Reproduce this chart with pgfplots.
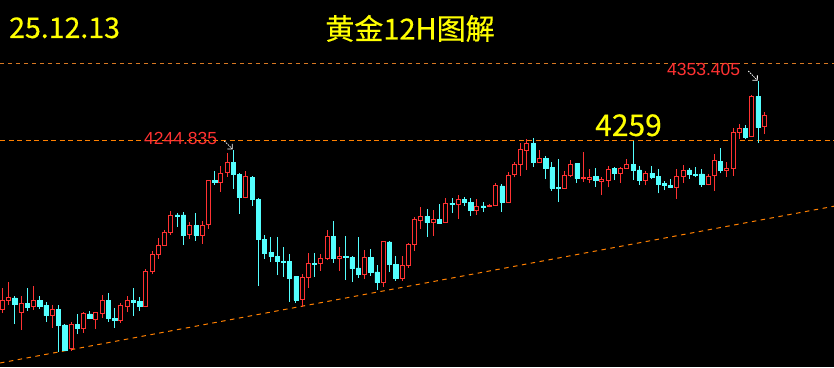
\documentclass[border=0pt]{standalone}
\usepackage{pgfplots}
\pgfplotsset{compat=1.18}
\usepackage{pgfplotstable}
\usepackage{fontspec}
\setmainfont{Noto Sans CJK SC}
\newfontfamily\titlefont{Noto Sans CJK SC}[FakeBold=0.35]
\newfontfamily\labfont{Liberation Sans}
\usetikzlibrary{arrows.meta}
\definecolor{cred}{RGB}{255,50,50}
\definecolor{ccyan}{RGB}{84,255,255}
\definecolor{corange}{RGB}{255,128,0}
\definecolor{ctop}{RGB}{215,120,35}
\definecolor{cyel}{RGB}{255,255,0}

\pgfplotstableread{
i o h l c
1 3994.6 4028.2 3988.8 4008.8
2 4007.7 4037.1 4000.9 4013.1
4 3988.8 4015.1 3962.1 4003.6
6 3998.3 4030.8 3993.1 4008.3
9 3984.1 4000.5 3965.2 3994.6
12 3932.2 3974.2 3928.6 3971.0
14 3963.6 3989.9 3957.4 3986.8
16 3977.8 3989.9 3963.6 3988.4
17 3987.2 4016.7 3981.0 4008.8
20 3976.2 4004.1 3973.1 3999.4
21 3998.3 4015.1 3989.9 4008.8
24 3998.3 4057.6 3997.8 4054.4
25 4053.3 4085.9 4049.2 4080.7
26 4080.1 4106.4 4073.8 4094.9
27 4094.9 4119.4 4094.2 4115.8
28 4114.7 4148.9 4111.1 4142.1
31 4111.6 4131.5 4105.3 4126.3
33 4110.0 4133.1 4097.4 4126.3
34 4127.6 4198.4 4121.0 4196.1
36 4193.4 4219.7 4179.2 4208.2
37 4209.1 4240.1 4202.8 4225.5
40 4169.8 4211.3 4168.8 4203.4
49 4009.9 4049.7 3998.3 4045.0
50 4043.9 4082.3 4028.2 4066.6
52 4065.5 4081.2 4054.9 4074.4
53 4073.8 4119.0 4071.3 4109.0
55 4073.8 4092.2 4054.9 4077.6
59 4048.6 4087.5 4042.3 4076.0
62 4036.0 4100.8 4029.7 4100.1
65 4042.3 4078.0 4039.2 4063.4
66 4062.8 4098.5 4059.6 4096.9
67 4095.8 4139.9 4086.4 4134.7
68 4133.6 4155.1 4120.5 4140.5
70 4130.4 4150.4 4110.0 4135.8
72 4130.4 4169.3 4129.9 4161.4
74 4158.8 4174.0 4136.7 4167.3
77 4149.3 4167.3 4142.6 4156.2
79 4155.5 4159.9 4154.7 4157.0
80 4157.8 4192.9 4157.3 4188.2
82 4163.0 4209.7 4162.5 4205.0
83 4206.0 4226.0 4201.9 4222.8
84 4221.7 4255.8 4203.9 4245.9
85 4243.7 4261.7 4213.8 4255.4
87 4224.8 4244.8 4224.3 4231.8
91 4183.9 4211.8 4183.4 4205.0
92 4205.0 4229.1 4201.9 4222.8
94 4199.5 4241.7 4194.5 4201.1
95 4199.2 4214.5 4192.4 4202.3
97 4195.0 4202.3 4174.0 4198.1
98 4196.5 4219.7 4186.1 4214.5
100 4207.5 4218.6 4193.4 4216.0
101 4215.4 4230.2 4214.9 4222.3
104 4196.5 4212.3 4189.3 4208.6
109 4186.1 4214.5 4168.2 4203.4
110 4202.8 4221.2 4193.4 4211.8
114 4191.3 4207.1 4189.3 4203.9
115 4204.4 4238.2 4180.8 4228.3
117 4212.3 4225.5 4202.8 4216.5
118 4216.0 4279.1 4204.2 4272.8
119 4272.1 4285.7 4262.6 4279.0
121 4265.8 4330.9 4265.3 4329.3
123 4281.5 4304.2 4270.5 4299.4
}\redtab

\pgfplotstableread{
i o h l c
3 4012.0 4015.1 3971.0 4001.4
5 4004.1 4028.2 3992.0 3997.8
7 4008.3 4015.1 3994.6 3999.4
8 4000.9 4005.7 3974.7 3984.1
10 3994.6 4000.5 3927.5 3968.4
11 3969.5 3971.0 3929.5 3930.1
13 3971.0 3986.8 3955.3 3963.6
15 3986.8 3991.5 3978.9 3979.4
18 4008.8 4019.8 3974.7 3979.4
19 3980.5 3996.2 3965.2 3976.2
22 4008.8 4027.7 3983.6 4005.7
23 4007.2 4014.0 3992.0 3999.4
29 4142.6 4146.2 4124.1 4141.0
30 4142.6 4147.3 4095.4 4111.1
32 4126.3 4145.7 4102.1 4110.0
35 4196.5 4211.8 4189.8 4194.5
38 4225.5 4244.8 4183.9 4206.0
39 4206.6 4208.2 4144.6 4169.8
41 4201.9 4203.4 4157.2 4166.6
42 4167.3 4168.8 4031.3 4103.7
43 4104.8 4110.6 4073.8 4081.7
44 4084.3 4107.9 4068.6 4076.9
45 4078.0 4108.4 4048.1 4069.1
46 4069.7 4092.7 4045.5 4068.1
47 4069.7 4080.7 4006.1 4043.4
48 4045.5 4046.0 4004.6 4008.8
51 4067.0 4082.3 4045.5 4065.5
54 4109.5 4133.1 4067.5 4073.8
56 4078.0 4109.5 4040.3 4075.4
57 4076.0 4078.0 4037.6 4058.1
58 4059.2 4107.9 4043.9 4048.6
60 4076.0 4089.1 4047.0 4051.8
61 4052.9 4063.9 4024.5 4036.0
63 4100.1 4101.6 4053.3 4064.3
64 4065.0 4078.0 4039.2 4042.3
69 4140.5 4152.0 4108.4 4130.4
71 4135.8 4159.9 4128.4 4128.9
73 4161.4 4169.3 4146.2 4158.8
75 4167.7 4170.4 4157.2 4161.9
76 4163.0 4168.8 4141.0 4149.3
78 4157.0 4163.0 4147.3 4155.5
81 4188.2 4191.3 4147.3 4163.0
86 4255.4 4263.7 4218.6 4224.8
88 4231.8 4235.4 4199.2 4216.5
89 4217.6 4226.0 4180.8 4185.0
90 4185.8 4230.2 4163.0 4184.3
93 4223.3 4224.8 4193.4 4199.7
96 4203.9 4216.0 4187.1 4196.5
99 4216.0 4218.6 4197.6 4207.5
102 4222.8 4259.0 4197.6 4212.3
103 4213.4 4219.7 4190.2 4196.5
105 4208.6 4219.7 4198.7 4201.9
106 4203.4 4214.5 4176.7 4190.2
107 4191.8 4196.5 4181.9 4189.3
108 4189.3 4198.7 4185.0 4185.5
111 4213.4 4217.0 4199.7 4207.1
112 4206.8 4217.6 4201.9 4205.2
113 4207.1 4214.5 4187.4 4191.3
116 4227.5 4247.7 4208.2 4212.3
120 4279.0 4284.2 4261.7 4264.8
122 4329.3 4353.4 4256.3 4279.9
}\cyantab

\pgfplotsset{candlebase/.style={scale only axis, width=834pt, height=367pt,
  xmin=0.632, xmax=134.16, ymin=3903.4, ymax=4480.86, hide axis,
  at={(0pt,0pt)}, anchor=south west}}

\begin{document}
\begin{tikzpicture}
\useasboundingbox (0,0) rectangle (834pt,367pt);
\fill[black] (0,0) rectangle (834pt,367pt);
\begin{axis}[candlebase]
 \addplot[ctop, line width=0.8pt, dash pattern=on 4pt off 4pt] coordinates {(0.632,4381.3) (134.16,4381.3)};
 \addplot[corange, line width=1pt, dash pattern=on 5pt off 3.5pt] coordinates {(0.632,4259) (134.16,4259)};
 \addplot[corange, line width=1pt, dash pattern=on 4.5pt off 4.5pt] coordinates {(0.632,3909.7) (134.16,4156.4)};
 \addplot[draw=none, mark=none, error bars/.cd, y dir=plus, y explicit, error mark=none,
   error bar style={draw=cred, line width=1pt}]
   table[x=i, y=l, y error expr=\thisrow{h}-\thisrow{l}] {\redtab};
 \addplot[draw=none, mark=none, error bars/.cd, y dir=plus, y explicit, error mark=none,
   error bar style={draw=ccyan, line width=1pt}]
   table[x=i, y=l, y error expr=\thisrow{h}-\thisrow{l}] {\cyantab};
\end{axis}
\begin{axis}[candlebase, ybar stacked, bar width=4pt]
 \addplot[draw=none, fill=none] table[x=i, y expr={min(\thisrow{o},\thisrow{c})}] {\redtab};
 \addplot[draw=cred, fill=black, line width=1pt] table[x=i, y expr={abs(\thisrow{c}-\thisrow{o})}] {\redtab};
\end{axis}
\begin{axis}[candlebase, ybar stacked, bar width=4.2pt]
 \addplot[draw=none, fill=none] table[x=i, y expr={min(\thisrow{o},\thisrow{c})}] {\cyantab};
 \addplot[draw=ccyan, fill=ccyan, line width=0.5pt] table[x=i, y expr={abs(\thisrow{c}-\thisrow{o})}] {\cyantab};
\end{axis}
\node[anchor=base west, inner sep=0, text=cyel, font=\titlefont\fontsize{28.5}{30}\selectfont] at (9pt,329pt) {25.12.13};
\node[anchor=base, inner sep=0, text=cyel, font=\titlefont\fontsize{29}{30}\selectfont] at (410pt,327.5pt) {黄金12H图解};
\node[anchor=base west, inner sep=0, text=cyel, font=\titlefont\fontsize{30}{32}\selectfont] at (595pt,231pt) {4259};
\node[anchor=base west, inner sep=0, text=cred, font=\labfont\fontsize{17.5}{18}\selectfont] at (144pt,222pt) {4244.835};
\node[anchor=base west, inner sep=0, text=cred, font=\labfont\fontsize{17.5}{18}\selectfont] at (667pt,291.3pt) {4353.405};
\draw[white, line width=0.8pt, dash pattern=on 1.5pt off 1pt, -{Straight Barb[length=3.5pt]}] (224.3pt,226pt) -- (232.7pt,217.7pt);
\draw[white, line width=0.8pt, dash pattern=on 1.5pt off 1pt, -{Straight Barb[length=3.5pt]}] (748.3pt,296pt) -- (757.7pt,286.3pt);
\end{tikzpicture}
\end{document}
